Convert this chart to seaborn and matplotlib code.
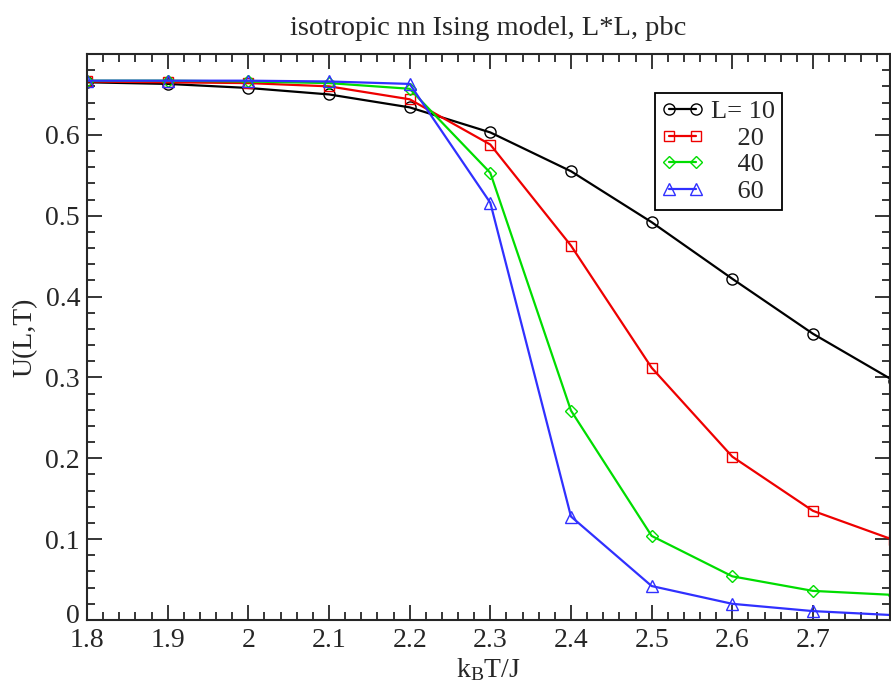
import pandas as pd
import matplotlib
matplotlib.use("Agg")
import matplotlib.pyplot as plt
import matplotlib.transforms as mtransforms
import seaborn as sns
from matplotlib.ticker import MultipleLocator

# temperatures and Binder cumulant for each lattice size
temps = [1.8, 1.9, 2.0, 2.1, 2.2, 2.3, 2.4, 2.5, 2.6, 2.7, 2.8]
u_L10 = [0.665, 0.663, 0.658, 0.650, 0.634, 0.603, 0.555, 0.492, 0.422, 0.354, 0.296]
u_L20 = [0.666, 0.665, 0.664, 0.660, 0.644, 0.588, 0.463, 0.312, 0.202, 0.135, 0.099]
u_L40 = [0.667, 0.667, 0.666, 0.664, 0.657, 0.553, 0.259, 0.104, 0.054, 0.036, 0.031]
u_L60 = [0.667, 0.667, 0.667, 0.666, 0.663, 0.516, 0.128, 0.042, 0.020, 0.011, 0.006]
labels = ["L= 10", "    20", "    40", "    60"]

df = pd.DataFrame({
    "T": temps * 4,
    "U": u_L10 + u_L20 + u_L40 + u_L60,
    "serie": [l for l in labels for _ in temps],
})

sns.set_style("ticks")
plt.rcParams["font.family"] = ["Liberation Serif", "DejaVu Serif"]
plt.rcParams["mathtext.fontset"] = "custom"
plt.rcParams["mathtext.rm"] = "Liberation Serif"
plt.rcParams["mathtext.it"] = "Liberation Serif:italic"

fig = plt.figure(figsize=(8.91, 6.83), dpi=100)
ax = fig.add_axes([87 / 891, 63 / 683, 803 / 891, 566 / 683])

cores = ["black", "#ee0000", "#00dd00", "#3030ff"]
marcadores = ["o", "s", "D", "^"]
tamanhos = [8, 7, 6, 8]
for lab, cor, m, ms in zip(labels, cores, marcadores, tamanhos):
    sns.lineplot(data=df[df["serie"] == lab], x="T", y="U", ax=ax, color=cor,
                 marker=m, markersize=ms, markerfacecolor="none",
                 markeredgecolor=cor, markeredgewidth=1.0, linewidth=1.6,
                 label=lab)

ax.set_xlim(1.8, 2.7955)
ax.set_ylim(0, 0.7)
ax.xaxis.set_minor_locator(MultipleLocator(0.02))
ax.yaxis.set_minor_locator(MultipleLocator(0.02))
ax.set_xticks([1.8, 1.9, 2.0, 2.1, 2.2, 2.3, 2.4, 2.5, 2.6, 2.7])
ax.set_xticklabels(["1.8", "1.9", "2", "2.1", "2.2", "2.3", "2.4", "2.5", "2.6", "2.7"])
ax.set_yticks([0, 0.1, 0.2, 0.3, 0.4, 0.5, 0.6])
ax.set_yticklabels(["0", "0.1", "0.2", "0.3", "0.4", "0.5", "0.6"])
ax.tick_params(which="both", direction="in", top=True, right=True, labelsize=20, width=1.3)
ax.tick_params(which="major", length=11, pad=5)
ax.tick_params(axis="x", which="major", pad=6)
ax.tick_params(which="minor", length=5.5)
for s in ax.spines.values():
    s.set_linewidth(1.5)

# sobe um pouco o "0" do eixo y para nao encostar no "1.8"
desloc = mtransforms.ScaledTranslation(0, 5 / 72, fig.dpi_scale_trans)
ax.get_yticklabels()[0].set_transform(ax.get_yticklabels()[0].get_transform() + desloc)

ax.set_xlabel(r"k$_\mathrm{B}$T/J", fontsize=20, labelpad=2)
ax.set_ylabel("U(L,T)", fontsize=20, labelpad=6)
ax.set_title("isotropic nn Ising model, L*L, pbc", fontsize=20.5, pad=14)

leg = ax.legend(loc="upper left", bbox_to_anchor=(0.707, 0.931), borderaxespad=0,
                fontsize=19, numpoints=2, handlelength=1.6, handletextpad=0.3,
                labelspacing=0.12, borderpad=0.25, fancybox=False, framealpha=1)
leg.get_frame().set_edgecolor("black")
leg.get_frame().set_linewidth(1.3)

fig.savefig("out.png", dpi=100)
